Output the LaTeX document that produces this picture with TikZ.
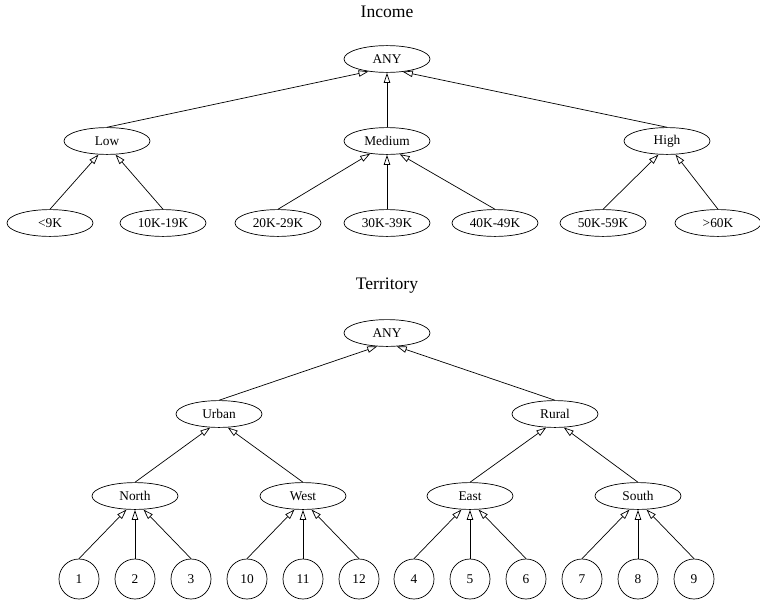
\documentclass[tikz,border=0pt]{standalone}
\usepackage{fontspec}
\setmainfont{Liberation Serif}
\usepackage{tikz}
\usetikzlibrary{shapes.geometric, arrows.meta}

\tikzset{
  ell/.style={draw, ellipse, inner sep=0pt, minimum width=2.15cm, minimum height=0.67cm, font=\fontsize{9.5}{11}\selectfont},
  circ/.style={draw, circle, inner sep=0pt, minimum size=1cm, font=\fontsize{9.5}{11}\selectfont},
  ttl/.style={font=\fontsize{12.5}{14}\selectfont},
  arr/.style={-{Triangle[open, length=0.25cm, width=0.16cm]}, line width=0.5pt}
}

\begin{document}
\begin{tikzpicture}[x=0.025cm, y=-0.025cm, line width=0.5pt]
        \useasboundingbox (0,0) rectangle (760,605);

        % Jerarquia de Income
        \node[ttl] (tinc) at (387,12) {Income};
        \node[ell] (iany) at (387,59) {ANY};
        \node[ell] (low) at (107,141) {Low};
        \node[ell] (med) at (387,141) {Medium};
        \node[ell] (high) at (667,141) {High};

        \node[ell] (i1) at (50,223) {<9K};
        \node[ell] (i2) at (163,223) {10K-19K};
        \node[ell] (i3) at (278,223) {20K-29K};
        \node[ell] (i4) at (387,223) {30K-39K};
        \node[ell] (i5) at (495,223) {40K-49K};
        \node[ell] (i6) at (603,223) {50K-59K};
        \node[ell] (i7) at (718,223) {>60K};

        \draw[arr] (low.north) -- (iany.-146);
        \draw[arr] (med.north) -- (iany.south);
        \draw[arr] (high.north) -- (iany.-39);
        \draw[arr] (i1.north) -- (low.-122);
        \draw[arr] (i2.north) -- (low.-58);
        \draw[arr] (i3.north) -- (med.-143);
        \draw[arr] (i4.north) -- (med.south);
        \draw[arr] (i5.north) -- (med.-46);
        \draw[arr] (i6.north) -- (high.-122);
        \draw[arr] (i7.north) -- (high.-58);

        % Jerarquia de Territory
        \node[ttl] (tter) at (387,286) {Territory};
        \node[ell] (tany) at (387,333) {ANY};
        \node[ell] (urban) at (219,414) {Urban};
        \node[ell] (rural) at (555,414) {Rural};
        \node[ell] (north) at (135,496) {North};
        \node[ell] (west) at (303,496) {West};
        \node[ell] (east) at (470,496) {East};
        \node[ell] (south) at (638,496) {South};

        \draw[arr] (urban.north) -- (tany.-126);
        \draw[arr] (rural.north) -- (tany.-54);
        \draw[arr] (north.north) -- (urban.-123);
        \draw[arr] (west.north) -- (urban.-57);
        \draw[arr] (east.north) -- (rural.-123);
        \draw[arr] (south.north) -- (rural.-57);

        % Hojas numeradas
        \foreach \lbl/\x/\up/\ang in {1/79/north/-122, 2/135/north/-90, 3/191/north/-58,
                                      10/247/west/-122, 11/303/west/-90, 12/359/west/-58,
                                      4/414/east/-122, 5/470/east/-90, 6/526/east/-58,
                                      7/582/south/-122, 8/638/south/-90, 9/694/south/-58} {
            \node[circ] (c\lbl) at (\x,579) {\lbl};
            \draw[arr] (c\lbl.north) -- (\up.\ang);
        }

\end{tikzpicture}
\end{document}
